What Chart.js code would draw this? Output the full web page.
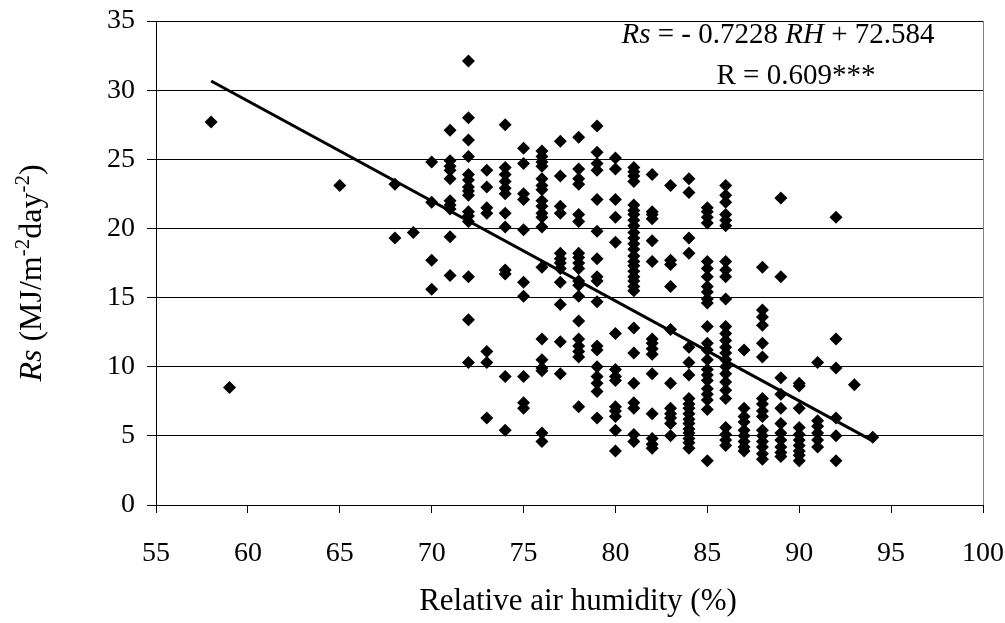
<!DOCTYPE html>
<html><head><meta charset="utf-8">
<script src="https://cdn.jsdelivr.net/npm/chart.js@4"></script>
<style>html,body{margin:0;padding:0;background:#fff}#wrap{width:1005px;height:623px;position:relative}</style>
</head><body><div id="wrap"><canvas id="c" width="1005" height="623"></canvas></div>
<script>
// Relative air humidity levels (%) and the Rs values observed at each level
const humidityLevels = [58, 59, 65, 68, 69, 70, 71, 72, 73, 74, 75, 76, 77, 78, 79, 80, 81, 82, 83, 84, 85, 86, 87, 88, 89, 90, 91, 92, 93, 94];
const rs58 = [27.7];
const rs59 = [8.5];
const rs65 = [23.1];
const rs68 = [23.2, 19.3];
const rs69 = [19.7];
const rs70 = [24.8, 21.9, 17.7, 15.6];
const rs71 = [27.1, 24.9, 24.5, 24.2, 23.6, 22.0, 21.7, 21.4, 19.4, 16.6];
const rs72 = [32.1, 28.0, 26.4, 25.2, 23.9, 23.5, 23.0, 22.7, 22.4, 21.2, 20.9, 20.5, 16.5, 13.4, 10.3];
const rs73 = [24.2, 23.0, 21.5, 21.1, 11.1, 10.3, 6.3];
const rs74 = [27.5, 24.4, 23.9, 23.4, 22.9, 22.5, 21.1, 20.1, 17.0, 16.7, 9.3, 5.4];
const rs75 = [25.8, 24.7, 22.5, 22.1, 19.9, 16.1, 15.1, 9.3, 7.4, 7.0];
const rs76 = [25.6, 25.2, 24.8, 24.5, 23.6, 23.1, 22.8, 22.0, 21.6, 21.1, 20.8, 20.1, 17.2, 12.0, 10.5, 9.9, 9.7, 5.2, 4.6];
const rs77 = [26.3, 23.8, 21.6, 21.1, 18.2, 17.8, 17.5, 17.1, 16.1, 14.5, 11.8, 9.5];
const rs78 = [26.6, 24.3, 23.6, 23.2, 21.0, 20.5, 18.2, 17.9, 17.5, 17.1, 16.2, 15.9, 15.1, 13.3, 12.0, 11.5, 11.1, 10.7, 7.1];
const rs79 = [27.4, 25.5, 24.7, 24.2, 22.1, 19.8, 17.8, 16.5, 16.2, 14.7, 11.5, 11.2, 10.0, 9.3, 8.8, 8.2, 6.3];
const rs80 = [25.1, 24.3, 22.1, 20.8, 19.0, 12.4, 9.8, 9.3, 9.0, 7.1, 6.8, 6.4, 5.4, 3.9];
const rs81 = [24.4, 24.1, 23.8, 23.4, 21.7, 21.3, 21.0, 20.6, 20.2, 19.7, 19.3, 18.9, 18.5, 18.0, 17.6, 17.3, 16.9, 16.5, 16.2, 15.8, 15.5, 12.8, 11.0, 8.8, 7.4, 7.0, 5.1, 4.6];
const rs82 = [23.9, 21.2, 21.0, 20.7, 19.1, 17.6, 12.0, 11.7, 11.3, 10.9, 9.5, 6.6, 4.8, 4.4, 4.1];
const rs83 = [23.1, 17.7, 17.4, 15.8, 12.7, 8.8, 7.0, 6.6, 6.3, 5.9, 5.0];
const rs84 = [23.6, 22.6, 19.3, 18.2, 11.4, 10.3, 9.4, 7.7, 7.3, 7.0, 6.6, 6.2, 5.9, 5.5, 5.2, 4.8, 4.5, 4.1];
const rs85 = [21.5, 21.2, 20.8, 20.4, 17.6, 17.1, 16.5, 15.8, 15.4, 14.9, 14.6, 12.9, 11.7, 11.2, 10.5, 9.8, 9.4, 9.0, 8.4, 8.0, 7.6, 6.9, 3.2];
const rs86 = [23.1, 22.4, 21.9, 21.0, 20.6, 20.2, 17.6, 17.0, 16.5, 14.9, 12.9, 12.4, 11.9, 11.4, 11.0, 10.5, 10.0, 9.5, 8.9, 8.3, 7.7, 5.6, 5.1, 4.7, 4.3];
const rs87 = [11.2, 7.0, 6.4, 6.0, 5.4, 5.0, 4.6, 4.2, 3.9];
const rs88 = [17.2, 14.1, 13.6, 13.0, 11.7, 10.7, 7.7, 7.3, 6.8, 6.4, 5.4, 5.0, 4.6, 4.2, 3.7, 3.3];
const rs89 = [22.2, 16.5, 9.2, 8.0, 7.0, 5.9, 5.2, 4.7, 4.2, 3.8, 3.5];
const rs90 = [8.8, 8.6, 7.0, 5.6, 5.1, 4.7, 4.3, 3.9, 3.6, 3.2];
const rs91 = [10.3, 6.1, 5.7, 5.2, 4.7, 4.2];
const rs92 = [20.8, 12.0, 9.9, 6.3, 5.0, 3.2];
const rs93 = [8.7];
const rs94 = [4.9];
const rsColumns = [rs58, rs59, rs65, rs68, rs69, rs70, rs71, rs72, rs73, rs74, rs75, rs76, rs77, rs78, rs79, rs80, rs81, rs82, rs83, rs84, rs85, rs86, rs87, rs88, rs89, rs90, rs91, rs92, rs93, rs94];

// Regression line end points (as drawn)
const trendX = [58, 94];
const trendY = [30.66, 4.64];

// Tick labels
const xTicks = [55, 60, 65, 70, 75, 80, 85, 90, 95, 100];
const yTicks = [0, 5, 10, 15, 20, 25, 30, 35];

const points = [];
humidityLevels.forEach((h, i) => rsColumns[i].forEach(v => points.push({ x: h, y: v })));
const trendPoints = trendX.map((x, i) => ({ x: x, y: trendY[i] }));

const SERIF = '"Liberation Serif", "Times New Roman", serif';

function drawRich(ctx, parts, x, y, align) {
  let total = 0;
  parts.forEach(p => { ctx.font = p.f; p.w = ctx.measureText(p.t).width; total += p.w; });
  let cx = align === 'center' ? x - total / 2 : x;
  parts.forEach(p => { ctx.font = p.f; ctx.fillText(p.t, cx, y + (p.dy || 0)); cx += p.w; });
}

const textPlugin = {
  id: 'texts',
  beforeDatasetsDraw(chart) {
    const { ctx, chartArea: a } = chart;
    ctx.save();
    ctx.strokeStyle = '#808080';
    ctx.lineWidth = 1;
    ctx.beginPath();
    ctx.moveTo(Math.round(a.right) + 0.5, a.top);
    ctx.lineTo(Math.round(a.right) + 0.5, a.bottom);
    ctx.stroke();
    ctx.restore();
  },
  afterDraw(chart) {
    const ctx = chart.ctx;
    ctx.save();
    ctx.fillStyle = '#000';
    ctx.textBaseline = 'alphabetic';
    ctx.textAlign = 'left';
    // equation
    const f = '29px ' + SERIF, fi = 'italic 29px ' + SERIF;
    drawRich(ctx, [{ t: 'Rs', f: fi }, { t: ' = - 0.7228 ', f: f }, { t: 'RH', f: fi }, { t: ' + 72.584', f: f }], 778, 43, 'center');
    drawRich(ctx, [{ t: 'R = 0.609***', f: f }], 796, 84, 'center');
    // x title
    drawRich(ctx, [{ t: 'Relative air humidity (%)', f: '31px ' + SERIF }], 578, 610, 'center');
    // y title
    ctx.translate(41, 273);
    ctx.rotate(-Math.PI / 2);
    const yf = '32px ' + SERIF, ys = '21px ' + SERIF;
    drawRich(ctx, [
      { t: 'Rs', f: 'italic 32px ' + SERIF },
      { t: ' (MJ/m', f: yf },
      { t: '-2', f: ys, dy: -12 },
      { t: 'day', f: yf },
      { t: '-2', f: ys, dy: -12 },
      { t: ')', f: yf }
    ], 0, 0, 'center');
    ctx.restore();
  }
};

new Chart(document.getElementById('c').getContext('2d'), {
  type: 'scatter',
  data: {
    datasets: [
      {
        type: 'line', data: trendPoints, showLine: true, borderColor: '#000', borderWidth: 3,
        pointRadius: 0, fill: false, order: 0, tension: 0
      },
      {
        type: 'scatter', data: points, pointStyle: 'rectRot', pointRadius: 6.5,
        backgroundColor: '#000', borderColor: '#000', borderWidth: 0, order: 1
      }
    ]
  },
  options: {
    responsive: false, animation: false, devicePixelRatio: 1,
    layout: { padding: { top: 21, right: 22, left: 0, bottom: 0 } },
    plugins: { legend: { display: false }, tooltip: { enabled: false } },
    scales: {
      x: {
        type: 'linear', min: 55, max: 100,
        afterBuildTicks: s => { s.ticks = xTicks.map(v => ({ value: v })); },
        afterFit: s => { s.height = 118; s.paddingLeft = 0; s.paddingRight = 0; },
        grid: { drawOnChartArea: false, drawTicks: true, tickLength: 8, color: '#000' },
        border: { color: '#000', width: 1 },
        ticks: { padding: 24, color: '#000', maxRotation: 0, autoSkip: false, font: { family: SERIF, size: 28 } }
      },
      y: {
        type: 'linear', min: 0, max: 35,
        afterBuildTicks: s => { s.ticks = yTicks.map(v => ({ value: v })); },
        afterFit: s => { s.width = 156; s.paddingTop = 0; s.paddingBottom = 0; },
        grid: { color: '#000', tickLength: 9, drawTicks: true },
        border: { color: '#000', width: 1 },
        ticks: { padding: 12, color: '#000', autoSkip: false, font: { family: SERIF, size: 28 } }
      }
    }
  },
  plugins: [textPlugin]
});
</script>
</body></html>
